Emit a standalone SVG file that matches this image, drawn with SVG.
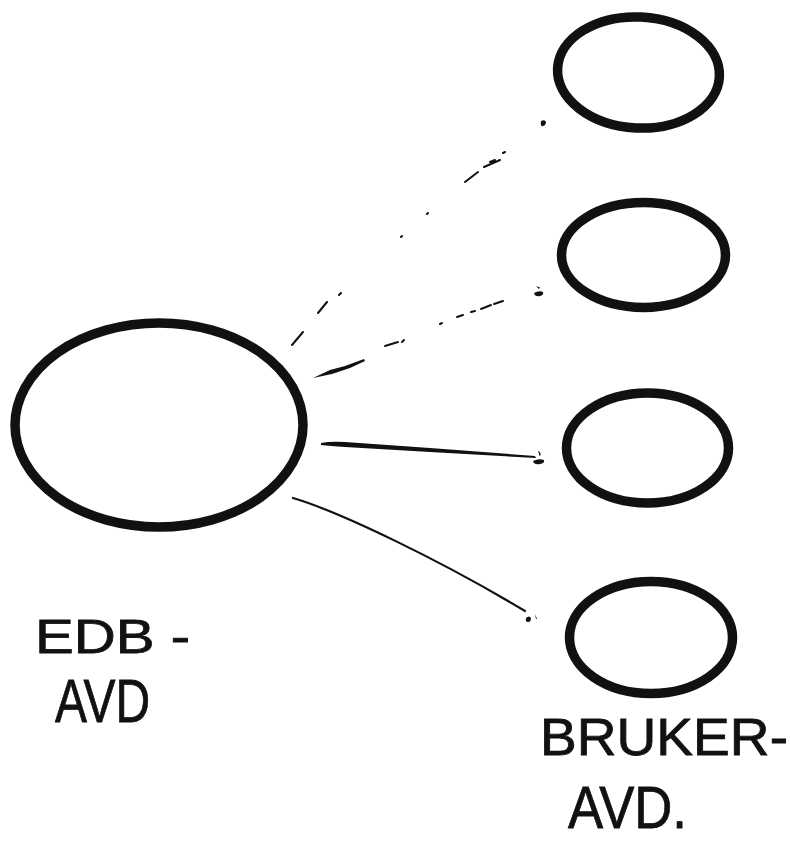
<svg xmlns="http://www.w3.org/2000/svg" width="790" height="841" viewBox="0 0 790 841">
  <style>
    .node { fill: none; stroke: #111; stroke-width: 9.5; }
    .lbl { font-family: "Liberation Sans", "DejaVu Sans", sans-serif; fill: #111; stroke: #111; stroke-width: 0.8; }
    .faint { fill: none; stroke: #111; stroke-linecap: round; }
    .tip { fill: #111; }
  </style>
  <rect width="790" height="841" fill="#fff"/>

  <!-- central unit -->
  <g id="edb-avd">
    <ellipse class="node" cx="159" cy="425" rx="144" ry="102"/>
    <text class="lbl" x="35" y="653" font-size="49" textLength="155" lengthAdjust="spacingAndGlyphs">EDB -</text>
    <text class="lbl" x="55" y="722" font-size="62" textLength="95" lengthAdjust="spacingAndGlyphs">AVD</text>
  </g>

  <!-- user departments -->
  <g id="bruker-1">
    <ellipse class="node" cx="638.5" cy="72.5" rx="81" ry="55.5" transform="rotate(3 638.5 72.5)"/>
  </g>
  <g id="bruker-2">
    <ellipse class="node" cx="643.5" cy="255" rx="82" ry="52.5"/>
  </g>
  <g id="bruker-3">
    <ellipse class="node" cx="647.5" cy="448" rx="81" ry="55"/>
  </g>
  <g id="bruker-4">
    <ellipse class="node" cx="651" cy="637.5" rx="81.5" ry="56"/>
    <text class="lbl" x="540" y="755" font-size="51" textLength="248" lengthAdjust="spacingAndGlyphs">BRUKER-</text>
    <text class="lbl" x="568" y="828" font-size="60" textLength="119" lengthAdjust="spacingAndGlyphs">AVD.</text>
  </g>

  <!-- connectors -->
  <g id="connectors">
    <!-- to unit 1: faint broken stroke -->
    <path class="faint" d="M292 345 L303 332 M318 313 L327 302 M339 295 L341 293 M401 237 L402 236 M427 214 L428 213 M465 182 L478 172 M484 167 L500 160 M490 162 L495 160 M503 153 L505 152" stroke-width="2"/>
    <path class="tip" d="M541 121 q4 -2 5 1 q0 3 -3 4 q-3 1 -2 -5z"/>
    <!-- to unit 2: broken stroke, heavier near the source -->
    <path fill="#111" d="M313 378 L330 370 L345 366 L364 359 L365 361 L350 368 L332 374 Z"/>
    <path class="faint" d="M385 346 L398 342 M402 342 L404 340 M440 324 L442 323 M457 317 L463 315 M471 312 L475 311 M481 309 L491 305 M494 304 L503 301" stroke-width="2"/>
    <path class="tip" d="M534 293 q5 -3 9 -1 q1 3 -3 4 q-5 1 -6 -3z M536 286 l4 1.5 l-1 1.5z"/>
    <!-- to unit 3: solid tapered stroke -->
    <path fill="#111" d="M321 443 Q330 441 345 442 L430 448 L535 456 L536 458 L430 452 L345 447 Q330 446 321 445 Z"/>
    <path class="tip" d="M533 461 q6 -3 11 -1 q1 3 -4 4 q-6 1 -7 -3z M538 451 q4 2 2 5 l-1 -1 q1 -2 -1 -3z"/>
    <!-- to unit 4: thin solid stroke -->
    <path class="faint" d="M293 498 C340 512 440 560 525 611" stroke-width="2.2"/>
    <path class="tip" d="M526 618 q3 -3 5 0 q0 4 -3 4 q-3 0 -2 -4z M535 614 l2 5 l-1 0z"/>
  </g>
</svg>
